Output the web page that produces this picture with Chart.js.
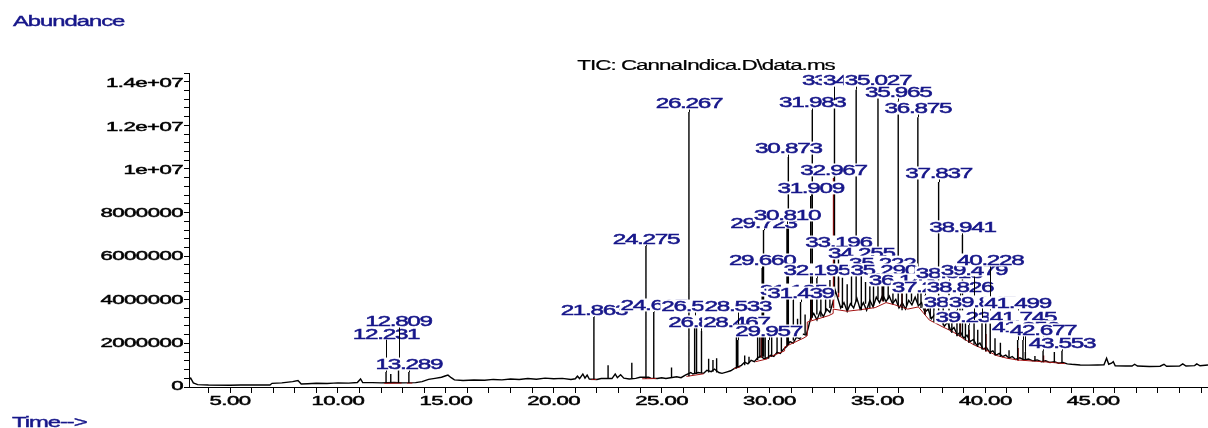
<!DOCTYPE html>
<html>
<head>
<meta charset="utf-8">
<script src="https://cdn.jsdelivr.net/npm/chart.js@4.4.1/dist/chart.umd.min.js"></script>
<style>
  html, body { margin: 0; padding: 0; background: #fff; }
</style>
</head>
<body>
<canvas id="tic" width="1208" height="428"></canvas>
<script>
// trace: retention time (min) and abundance (millions)
const traceTime = [
  3.10, 3.18, 3.30, 3.50, 4.00, 5.00, 5.50, 6.00, 6.85, 6.95, 7.40, 7.90, 8.15, 8.30, 8.60, 9.00,
  9.50, 9.80, 10.00, 10.50, 10.90, 11.05, 11.15, 11.60, 12.00, 12.60, 13.00, 13.60, 13.90, 14.20,
  14.50, 14.80, 15.00, 15.10, 15.25, 15.40, 15.80, 16.30, 16.80, 17.20, 17.60, 18.00, 18.40, 18.80,
  19.20, 19.60, 20.00, 20.40, 20.80, 21.00, 21.10, 21.20, 21.35, 21.45, 21.55, 21.65, 22.00, 22.20,
  22.70, 22.85, 22.95, 23.10, 23.25, 23.50, 23.80, 24.00, 24.40, 24.50, 24.80, 25.00, 25.20, 25.70,
  25.90, 26.10, 26.35, 26.45, 26.70, 26.95, 27.10, 27.30, 27.45, 27.65, 27.80, 28.00, 28.20, 28.40,
  28.60, 28.70, 28.85, 29.00, 29.15, 29.30, 29.45, 29.60, 29.75, 29.90, 30.05, 30.20, 30.35, 30.50,
  30.65, 30.80, 30.95, 31.10, 31.25, 31.40, 31.55, 31.70, 31.80, 31.90, 32.05, 32.20, 32.35, 32.50,
  32.65, 32.80, 32.95, 33.05, 33.15, 33.30, 33.45, 33.60, 33.75, 33.90, 34.05, 34.20, 34.35, 34.50,
  34.65, 34.80, 34.95, 35.10, 35.25, 35.40, 35.55, 35.70, 35.85, 36.00, 36.15, 36.30, 36.45, 36.60,
  36.75, 36.90, 37.05, 37.20, 37.35, 37.50, 37.65, 37.80, 37.95, 38.10, 38.25, 38.40, 38.55, 38.70,
  38.85, 39.00, 39.15, 39.30, 39.45, 39.60, 39.75, 39.90, 40.05, 40.20, 40.35, 40.50, 40.65, 40.80,
  40.95, 41.10, 41.25, 41.40, 41.60, 41.80, 42.00, 42.20, 42.40, 42.60, 42.80, 43.00, 43.20, 43.40,
  43.60, 43.80, 44.00, 44.40, 44.80, 45.20, 45.50, 45.62, 45.72, 45.85, 45.93, 46.02, 46.50, 46.80,
  46.92, 47.05, 47.60, 48.10, 48.28, 48.40, 49.00, 49.15, 49.30, 49.70, 49.80, 49.95, 50.32
];
const traceAbund = [
  0.28, 0.36, 0.14, 0.06, 0.04, 0.03, 0.04, 0.04, 0.04, 0.12, 0.14, 0.20, 0.25, 0.09, 0.10, 0.12,
  0.11, 0.13, 0.14, 0.13, 0.16, 0.32, 0.15, 0.15, 0.14, 0.16, 0.14, 0.15, 0.20, 0.30,
  0.35, 0.40, 0.47, 0.50, 0.38, 0.28, 0.25, 0.27, 0.26, 0.30, 0.28, 0.32, 0.30, 0.34,
  0.31, 0.36, 0.33, 0.35, 0.30, 0.33, 0.45, 0.34, 0.55, 0.36, 0.50, 0.32, 0.30, 0.34,
  0.34, 0.55, 0.38, 0.52, 0.36, 0.32, 0.35, 0.40, 0.40, 0.36, 0.34, 0.38, 0.34, 0.42,
  0.38, 0.50, 0.62, 0.55, 0.62, 0.58, 0.72, 0.66, 0.78, 0.62, 0.58, 0.64, 0.70, 0.82,
  0.90, 0.95, 1.10, 1.02, 1.18, 1.12, 1.30, 1.38, 1.25, 1.30, 1.42, 1.36, 1.55, 1.50,
  1.70, 1.82, 2.05, 1.98, 2.25, 2.18, 2.40, 2.35, 2.70, 3.10, 3.35, 3.05, 3.45, 3.20,
  3.55, 3.40, 3.90, 4.40, 4.10, 3.60, 3.85, 3.45, 3.80, 3.60, 4.05, 3.55, 3.85, 3.50,
  3.95, 3.65, 4.10, 3.85, 4.20, 3.90, 4.15, 3.80, 4.00, 3.60, 3.85, 3.55, 3.95, 3.75,
  4.10, 3.70, 3.85, 3.40, 3.55, 3.10, 3.30, 2.95, 3.15, 2.75, 2.95, 2.55, 2.70, 2.35,
  2.50, 2.20, 2.35, 2.05, 2.15, 1.88, 1.98, 1.70, 1.78, 1.55, 1.62, 1.42, 1.50, 1.35,
  1.42, 1.28, 1.36, 1.22, 1.30, 1.20, 1.24, 1.16, 1.20, 1.12, 1.16, 1.08, 1.12, 1.05,
  1.08, 1.02, 1.00, 0.97, 0.96, 0.97, 0.98, 1.28, 1.00, 1.05, 1.12, 0.93, 0.92, 0.92,
  1.00, 0.92, 0.90, 0.91, 1.00, 0.91, 0.92, 1.02, 0.92, 0.94, 1.02, 0.93, 0.97
];

// peaks: apex time, apex and foot abundance (millions)
const peakTime = [
  12.231, 12.45, 12.809, 13.289, 21.863, 22.52, 23.62, 24.275, 24.637, 25.46, 26.267, 26.531, 26.62,
  26.849, 27.18, 27.38, 27.55, 28.467, 28.533, 28.85, 29.05, 29.45, 29.55, 29.660, 29.723, 29.80,
  29.957, 30.10, 30.35, 30.55, 30.810, 30.873, 31.105, 31.30, 31.439, 31.65, 31.909, 31.983, 32.195,
  32.38, 32.60, 32.80, 33.011, 33.196, 33.38, 33.60, 33.80, 34.016, 34.255, 34.45, 34.65, 34.82,
  35.027, 35.222, 35.290, 35.50, 35.72, 35.965, 36.143, 36.35, 36.58, 36.875, 37.02, 37.204, 37.45,
  37.62, 37.837, 38.05, 38.318, 38.45, 38.687, 38.826, 38.941, 39.08, 39.236, 39.479, 39.65, 39.847,
  40.02, 40.228, 40.45, 40.70, 41.10, 41.499, 41.745, 41.856, 42.30, 42.677, 43.20, 43.553
];
const peakTop = [
  0.64, 0.55, 0.73, 0.64, 3.18, 0.96, 1.07, 6.47, 3.41, 0.85, 12.66, 3.14, 3.00,
  2.54, 1.25, 1.20, 1.28, 2.26, 2.12, 1.40, 1.35, 2.60, 3.00, 5.45, 7.20, 2.40,
  2.12, 2.50, 2.40, 2.80, 7.48, 10.58, 3.97, 3.10, 3.88, 3.30, 8.78, 12.75, 4.99,
  4.40, 4.20, 4.90, 13.20, 6.28, 5.00, 4.70, 5.40, 13.69, 5.77, 4.80, 5.10, 4.60,
  13.58, 5.36, 4.99, 4.80, 4.70, 13.17, 4.52, 4.30, 4.60, 12.42, 4.40, 4.20, 3.90,
  4.10, 9.42, 3.70, 4.85, 3.30, 3.51, 4.15, 6.97, 2.90, 2.82, 3.05, 2.60, 3.14,
  2.90, 2.91, 2.20, 2.00, 1.65, 2.12, 2.12, 1.57, 1.38, 1.62, 1.57, 1.62
];
const peakBase = [
  0.13, 0.13, 0.14, 0.14, 0.30, 0.33, 0.36, 0.34, 0.36, 0.38, 0.45, 0.55, 0.55,
  0.58, 0.62, 0.65, 0.62, 0.80, 0.85, 0.95, 1.05, 1.20, 1.30, 1.35, 1.35, 1.25,
  1.25, 1.35, 1.50, 1.60, 1.85, 1.90, 2.10, 2.25, 2.30, 2.40, 3.10, 3.15, 3.30,
  3.20, 3.40, 3.60, 4.10, 4.30, 3.60, 3.50, 3.70, 3.90, 3.50, 3.80, 3.60, 3.70,
  4.00, 3.95, 3.90, 4.00, 3.80, 3.70, 3.50, 3.70, 3.90, 3.80, 3.60, 3.30, 3.10,
  2.95, 2.95, 2.80, 2.60, 2.45, 2.30, 2.28, 2.25, 2.10, 2.00, 1.90, 1.80, 1.68,
  1.60, 1.48, 1.40, 1.35, 1.28, 1.20, 1.21, 1.20, 1.14, 1.12, 1.08, 1.06
];

// peak parts drawn in red
const redTime = [29.62, 30.83, 31.94, 32.967, 33.20, 35.24, 36.14, 37.22, 38.84, 39.25, 40.03, 41.52, 42.70];
const redTop = [2.80, 2.70, 4.30, 9.61, 5.00, 4.70, 4.30, 3.90, 3.10, 2.60, 2.40, 1.75, 1.40];
const redBase = [1.30, 1.85, 3.05, 3.60, 4.10, 3.90, 3.60, 3.30, 2.30, 2.00, 1.58, 1.15, 1.08];

// red integration baseline (null = break)
const integTime = [
  12.15, 12.95, 12.96, 13.20, 13.45, 13.46, 21.75, 21.98, 21.99, 24.10, 24.75, 24.76, 26.15, 26.95, 26.96,
  28.35, 28.65, 28.66, 29.35, 29.90, 29.90, 30.70, 30.70, 31.60, 31.75, 31.75, 32.75, 32.95, 32.95, 33.60,
  34.20, 34.90, 35.40, 35.80, 36.40, 36.90, 37.40, 38.00, 38.50, 39.00, 39.50, 40.00, 40.50, 41.00,
  41.50, 42.20, 42.80, 43.70
];
const integAbund = [
  0.12, 0.13, null, 0.13, 0.13, null, 0.29, 0.30, null, 0.33, 0.34, null, 0.44, 0.56, null,
  0.80, 0.88, null, 1.12, 1.25, 1.30, 1.62, 1.80, 2.22, 2.32, 2.95, 3.25, 3.35, 3.55, 3.45,
  3.52, 3.62, 3.85, 3.75, 3.55, 3.65, 3.05, 2.74, 2.50, 2.18, 1.88, 1.68, 1.41, 1.28,
  1.20, 1.15, 1.11, 1.03
];

// retention time labels and the abundance (millions) they sit at
const peakLabels = [
  '12.231', '12.809', '13.289', '21.863', '24.275', '24.637', '26.267', '26.531', '26.849', '28.467',
  '28.533', '29.660', '29.723', '29.957', '30.810', '30.873', '31.105', '31.439', '31.909', '31.983',
  '32.195', '32.967', '33.011', '33.196', '34.016', '34.255', '35.027', '35.222', '35.290', '35.965',
  '36.143', '36.875', '37.204', '37.837', '38.318', '38.687', '38.826', '38.941', '39.236', '39.479',
  '39.847', '40.228', '41.499', '41.745', '41.856', '42.677', '43.553'
];
const labelAt = [
  2.44, 3.00, 1.01, 3.51, 6.83, 3.74, 13.07, 3.69, 2.96, 2.96,
  3.69, 5.82, 7.57, 2.54, 7.90, 10.99, 4.43, 4.29, 9.15, 13.12,
  5.36, 9.98, 14.14, 6.65, 14.14, 6.14, 14.14, 5.72, 5.36, 13.58,
  4.90, 12.84, 4.57, 9.84, 5.22, 3.88, 4.57, 7.35, 3.19, 5.36,
  3.88, 5.82, 3.84, 3.19, 2.73, 2.59, 1.99
];

const xTickLabels = ['5.00', '10.00', '15.00', '20.00', '25.00', '30.00', '35.00', '40.00', '45.00'];
const yTickLabels = ['0', '2000000', '4000000', '6000000', '8000000', '1e+07', '1.2e+07', '1.4e+07'];

const NAVY = '#17178a';
const RED = '#a31212';
const M = 1e6;

function drawStretched(ctx, text, x, y, o) {
  ctx.save();
  ctx.font = o.size + 'px "Liberation Sans", Arial, sans-serif';
  ctx.letterSpacing = (o.spacing || 0) + 'px';
  const w = ctx.measureText(text).width * o.sx;
  const left = o.align === 'center' ? x - w / 2 : o.align === 'right' ? x - w : x;
  if (o.box) {
    ctx.fillStyle = '#fff';
    ctx.fillRect(left - 1, y - o.box / 2, w + 2, o.box);
  }
  ctx.fillStyle = o.color;
  ctx.strokeStyle = o.color;
  ctx.lineWidth = o.weight || 0.4;
  ctx.textAlign = 'left';
  ctx.textBaseline = 'alphabetic';
  ctx.translate(left, y + o.size * 0.36);
  ctx.scale(o.sx, 1);
  ctx.fillText(text, 0, 0);
  ctx.strokeText(text, 0, 0);
  ctx.restore();
}

const annotate = {
  id: 'annotate',
  afterDatasetsDraw(chart) {
    const { ctx, scales: { x, y } } = chart;
    peakLabels.forEach((txt, i) => {
      const t = Number(txt);
      const px = x.getPixelForValue(t);
      const py = y.getPixelForValue(labelAt[i] * M);
      const k = peakTime.findIndex(v => Math.abs(v - t) < 1e-6);
      if (k >= 0) {
        const top = y.getPixelForValue(peakTop[k] * M);
        if (top > py + 7) {
          ctx.save();
          ctx.strokeStyle = '#000';
          ctx.lineWidth = 1;
          ctx.beginPath();
          ctx.moveTo(Math.round(px) + 0.5, top);
          ctx.lineTo(Math.round(px) + 0.5, py + 6);
          ctx.stroke();
          ctx.restore();
        }
      }
      drawStretched(ctx, txt, px, py, { size: 15, sx: 1.62, spacing: -0.8, color: NAVY, align: 'center', box: 13, weight: 0.5 });
    });
  },
  afterDraw(chart) {
    const { ctx, chartArea, scales: { x, y } } = chart;
    yTickLabels.forEach(s => {
      drawStretched(ctx, s, chartArea.left - 6, y.getPixelForValue(Number(s)),
        { size: 12, sx: 1.85, spacing: -0.3, color: '#000', align: 'right', weight: 0.45 });
    });
    xTickLabels.forEach(s => {
      drawStretched(ctx, s, x.getPixelForValue(Number(s)), chartArea.bottom + 14,
        { size: 12, sx: 1.85, spacing: -0.3, color: '#000', align: 'center', weight: 0.45 });
    });
    drawStretched(ctx, 'TIC: CannaIndica.D\\data.ms', 706, 65, { size: 14, sx: 1.6, spacing: -0.6, color: '#000', align: 'center', weight: 0.2 });
    drawStretched(ctx, 'Abundance', 13, 21, { size: 14, sx: 1.7, spacing: -0.6, color: NAVY, align: 'left', weight: 0.4 });
    drawStretched(ctx, 'Time-->', 12, 422, { size: 14, sx: 1.7, spacing: -0.6, color: NAVY, align: 'left', weight: 0.4 });
  }
};

const trace = traceTime.map((t, i) => ({ x: t, y: traceAbund[i] * M }));
const sticks = (ts, lo, hi) => ts.flatMap((t, i) => [
  { x: t, y: lo[i] * M }, { x: t, y: hi[i] * M }, { x: t, y: null }
]);
const integ = integTime.map((t, i) => ({ x: t, y: integAbund[i] === null ? null : integAbund[i] * M }));

new Chart(document.getElementById('tic'), {
  type: 'line',
  data: {
    datasets: [
      { data: trace, borderColor: '#000', borderWidth: 1.4, pointRadius: 0, order: 4 },
      { data: integ, borderColor: RED, borderWidth: 1, pointRadius: 0, spanGaps: false, order: 3 },
      { data: sticks(redTime, redBase, redTop), borderColor: RED, borderWidth: 1.4, pointRadius: 0, spanGaps: false, order: 2 },
      { data: sticks(peakTime, peakBase, peakTop), borderColor: '#000', borderWidth: 1.4, pointRadius: 0, spanGaps: false, order: 1 }
    ]
  },
  options: {
    responsive: false,
    animation: false,
    events: [],
    layout: { padding: { top: 73, left: 0, right: 0, bottom: 0 } },
    plugins: { legend: { display: false }, tooltip: { enabled: false } },
    scales: {
      x: {
        type: 'linear',
        min: 3.10,
        max: 50.32,
        offset: false,
        afterFit: s => { s.height = 41; },
        border: { display: true, color: '#000', width: 1 },
        grid: { display: true, drawOnChartArea: false, drawTicks: true, tickLength: 6, color: '#000' },
        ticks: { display: false, stepSize: 1, includeBounds: false, maxTicksLimit: 1000 }
      },
      y: {
        type: 'linear',
        min: -0.05 * M,
        max: 14.46 * M,
        afterFit: s => { s.width = 189; },
        border: { display: true, color: '#000', width: 1 },
        grid: { display: true, drawOnChartArea: false, drawTicks: true, tickLength: 5, color: '#000' },
        ticks: { display: false, stepSize: 400000, includeBounds: false, maxTicksLimit: 1000 }
      }
    }
  },
  plugins: [annotate]
});
</script>
</body>
</html>
